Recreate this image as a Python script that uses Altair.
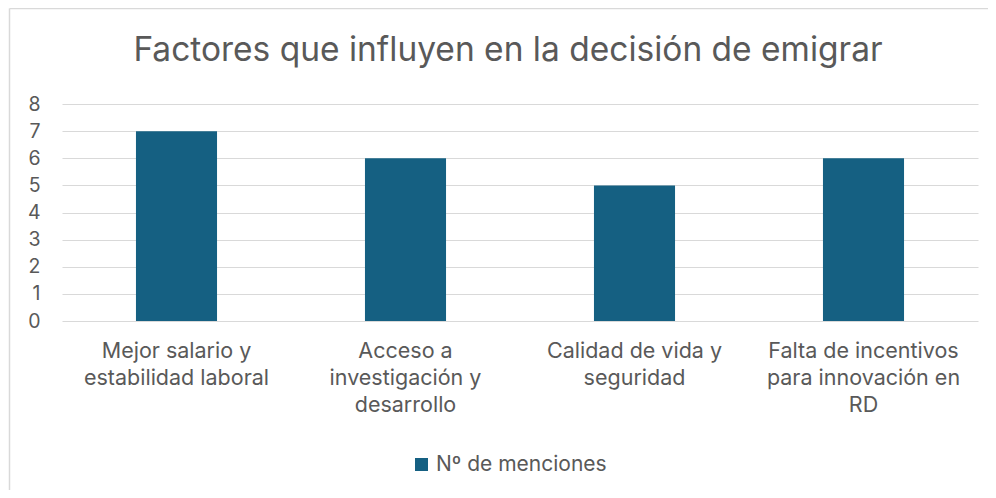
import altair as alt
import pandas as pd

categorias = [
    "Mejor salario y\nestabilidad laboral",
    "Acceso a\ninvestigación y\ndesarrollo",
    "Calidad de vida y\nseguridad",
    "Falta de incentivos\npara innovación en\nRD",
]
menciones = [7, 6, 5, 6]
serie = "Nº de menciones"
y_ticks = [0, 1, 2, 3, 4, 5, 6, 7, 8]

df = pd.DataFrame({"factor": categorias, "valor": menciones, "serie": [serie] * len(categorias)})

FONT = "Inter"
GREY = "#595959"

bars = alt.Chart(df).mark_bar().encode(
    x=alt.X(
        "factor:N",
        sort=None,
        title=None,
        scale=alt.Scale(paddingInner=0.646, paddingOuter=0.323),
        axis=alt.Axis(
            labelExpr="split(datum.label, '\\n')",
            labelAngle=0,
            labelFontSize=21.5,
            labelColor=GREY,
            labelFont=FONT,
            labelLineHeight=27,
            labelPadding=19,
            labelLimit=0,
            labelBaseline="top",
            ticks=False,
            domain=False,
            grid=False,
        ),
    ),
    y=alt.Y(
        "valor:Q",
        title=None,
        scale=alt.Scale(domain=[0, 8], nice=False),
        axis=alt.Axis(
            values=y_ticks,
            labelFontSize=19.5,
            labelColor=GREY,
            labelFont=FONT,
            labelPadding=22,
            ticks=False,
            domain=False,
            gridColor="#d9d9d9",
            gridWidth=1.2,
        ),
    ),
    color=alt.Color(
        "serie:N",
        scale=alt.Scale(range=["#156082"]),
        legend=alt.Legend(
            title=None,
            orient="none",
            legendX=349,
            legendY=350,
            direction="horizontal",
            symbolType="square",
            symbolSize=169,
            symbolStrokeWidth=0,
            labelFontSize=21,
            labelColor=GREY,
            labelFont=FONT,
            labelOffset=4,
            labelLimit=0,
            padding=0,
        ),
    ),
)

frame_df = pd.DataFrame({"a": [0]})
left_border = alt.Chart(frame_df).mark_rule(color="#d9d9d9", strokeWidth=1.5).encode(
    x=alt.value(-52.5), y=alt.value(-95.5), y2=alt.value(390)
)
top_border = alt.Chart(frame_df).mark_rule(color="#d9d9d9", strokeWidth=1.5).encode(
    x=alt.value(-52.5), x2=alt.value(930), y=alt.value(-95.5)
)

chart = alt.layer(left_border, top_border, bars).properties(
    width=916,
    height=217,
    padding={"left": 54, "top": 96, "right": 10, "bottom": 169},
    autosize=alt.AutoSizeParams(type="none"),
    title=alt.TitleParams(
        "Factores que influyen en la decisión de emigrar",
        fontSize=33.5,
        font=FONT,
        color=GREY,
        fontWeight="normal",
        anchor="middle",
        baseline="alphabetic",
        dx=-12,
        dy=87,
        offset=0,
    ),
).configure_view(stroke=None)

chart.save("out.html", embed_options={"renderer": "svg", "actions": False})
